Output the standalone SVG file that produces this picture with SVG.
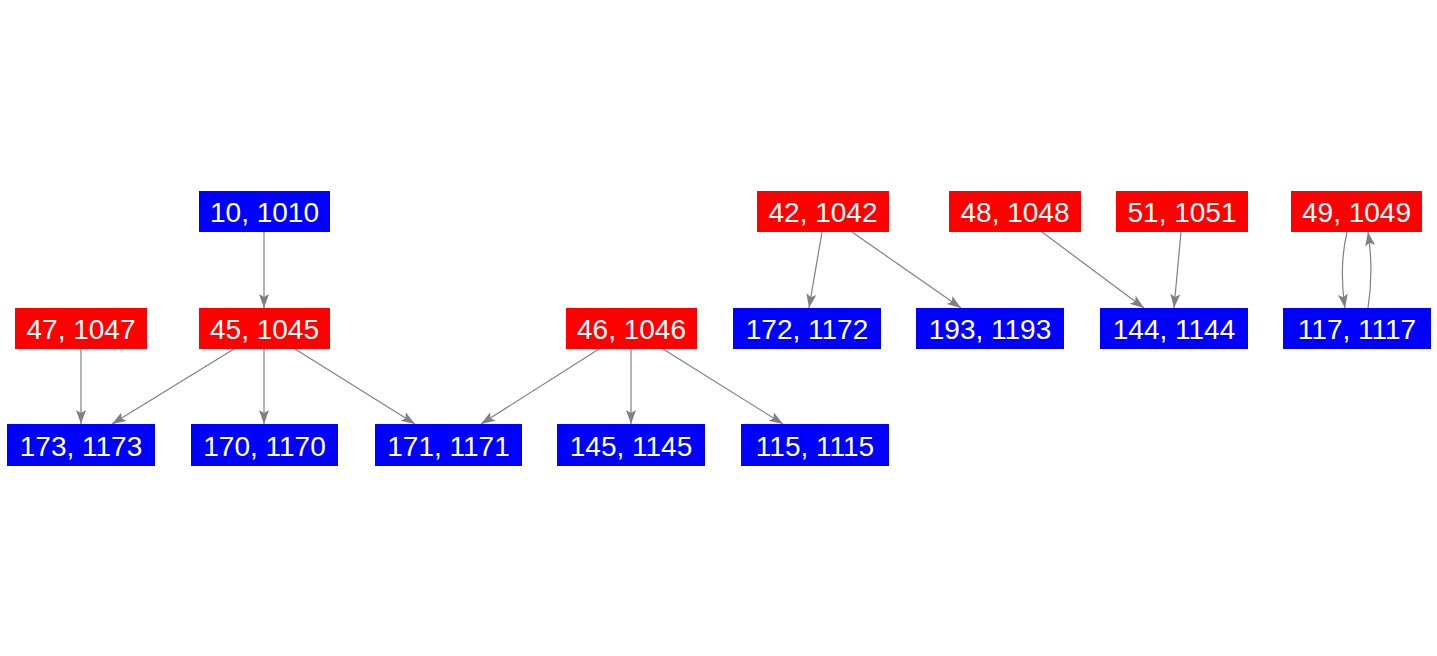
<svg xmlns="http://www.w3.org/2000/svg" width="1437" height="656" viewBox="0 0 1437 656">
<style>
.r{fill:#ff0000}
.b{fill:#0000ff}
text{font-family:"Liberation Sans",Arial,sans-serif;font-size:28px;fill:#ffffff;text-anchor:middle;dominant-baseline:central}
.e{fill:none;stroke:#808080;stroke-width:1.2;marker-end:url(#a)}
</style>
<defs>
<marker id="a" markerUnits="userSpaceOnUse" markerWidth="16" markerHeight="12" refX="14" refY="5" orient="auto" viewBox="0 0 16 10">
<path d="M0,0 L14,5 L0,10 L3,5 Z" fill="#808080"/>
</marker>
</defs>
<rect width="1437" height="656" fill="#ffffff"/>
<g id="edges">
<path class="e" d="M264,232 L264,308"/>
<path class="e" d="M81,349 L81,424"/>
<path class="e" d="M234,349 L112,424"/>
<path class="e" d="M264,349 L264,424"/>
<path class="e" d="M295,349 L415,424"/>
<path class="e" d="M599,349 L481,424"/>
<path class="e" d="M631,349 L631,424"/>
<path class="e" d="M663,349 L783,424"/>
<path class="e" d="M822,232 L809,308"/>
<path class="e" d="M852,232 L961,308"/>
<path class="e" d="M1042,232 L1144,308"/>
<path class="e" d="M1181,232 L1174,308"/>
<path class="e" d="M1347,232 C1341,258 1341,282 1345,308"/>
<path class="e" d="M1368,308 C1372,282 1372,258 1368,232"/>
</g>
<g id="n10"><rect class="b" x="199" y="191" width="131" height="41"/><text x="264.5" y="212">10, 1010</text></g>
<g id="n42"><rect class="r" x="757" y="191" width="132" height="41"/><text x="823" y="212">42, 1042</text></g>
<g id="n48"><rect class="r" x="949" y="191" width="132" height="41"/><text x="1015" y="212">48, 1048</text></g>
<g id="n51"><rect class="r" x="1116" y="191" width="132" height="41"/><text x="1182" y="212">51, 1051</text></g>
<g id="n49"><rect class="r" x="1291" y="191" width="131" height="41"/><text x="1356.5" y="212">49, 1049</text></g>
<g id="n47"><rect class="r" x="15" y="308" width="132" height="41"/><text x="81" y="329">47, 1047</text></g>
<g id="n45"><rect class="r" x="199" y="308" width="131" height="41"/><text x="264.5" y="329">45, 1045</text></g>
<g id="n46"><rect class="r" x="566" y="308" width="131" height="41"/><text x="631.5" y="329">46, 1046</text></g>
<g id="n172"><rect class="b" x="733" y="308" width="148" height="41"/><text x="807" y="329">172, 1172</text></g>
<g id="n193"><rect class="b" x="916" y="308" width="148" height="41"/><text x="990" y="329">193, 1193</text></g>
<g id="n144"><rect class="b" x="1100" y="308" width="148" height="41"/><text x="1174" y="329">144, 1144</text></g>
<g id="n117"><rect class="b" x="1283" y="308" width="148" height="41"/><text x="1357" y="329">117, 1117</text></g>
<g id="n173"><rect class="b" x="7" y="424" width="148" height="42"/><text x="81" y="446">173, 1173</text></g>
<g id="n170"><rect class="b" x="191" y="424" width="147" height="42"/><text x="264.5" y="446">170, 1170</text></g>
<g id="n171"><rect class="b" x="375" y="424" width="147" height="42"/><text x="448.5" y="446">171, 1171</text></g>
<g id="n145"><rect class="b" x="557" y="424" width="148" height="42"/><text x="631" y="446">145, 1145</text></g>
<g id="n115"><rect class="b" x="741" y="424" width="148" height="42"/><text x="815" y="446">115, 1115</text></g>
</svg>
